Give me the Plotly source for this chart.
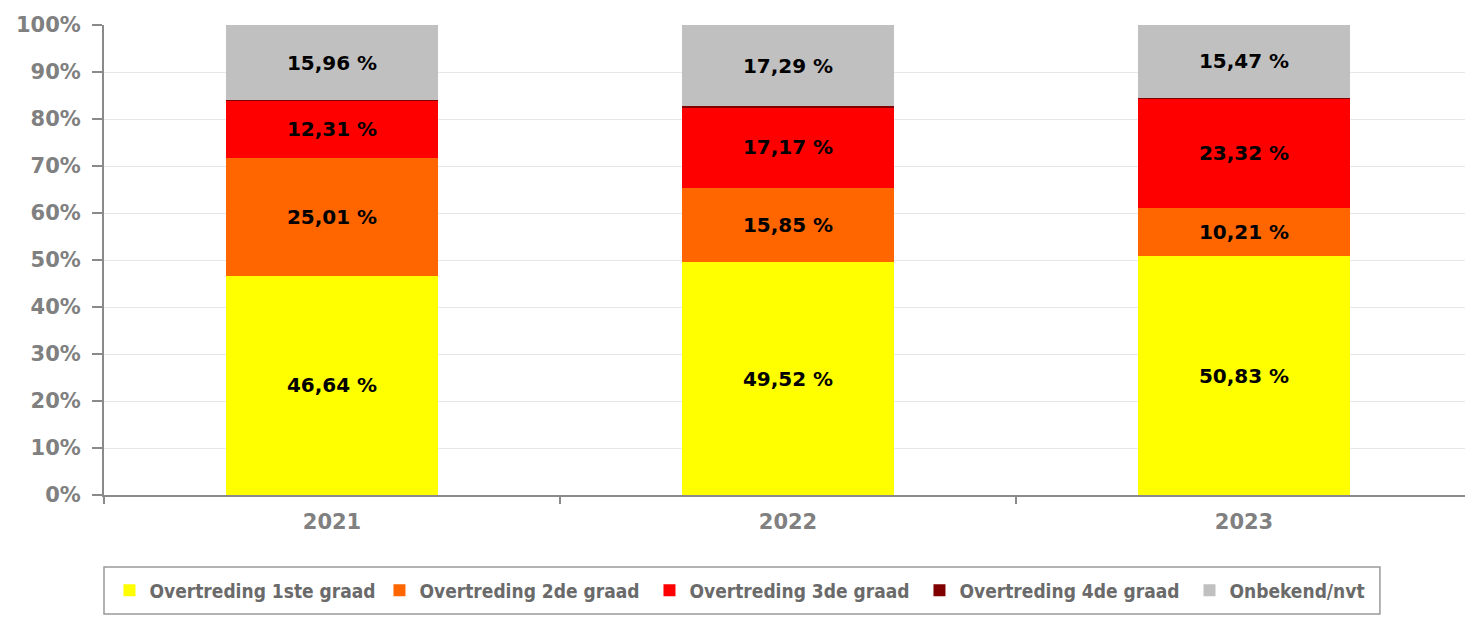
import plotly.graph_objects as go

years = ["2021", "2022", "2023"]
series_names = ["Overtreding 1ste graad", "Overtreding 2de graad", "Overtreding 3de graad",
                "Overtreding 4de graad", "Onbekend/nvt"]
graad1 = [46.64, 49.52, 50.83]
graad2 = [25.01, 15.85, 10.21]
graad3 = [12.31, 17.17, 23.32]
graad4 = [0.08, 0.17, 0.17]
onbekend = [15.96, 17.29, 15.47]
colors = ["#FFFF00", "#FF6600", "#FF0000", "#800000", "#C0C0C0"]
show_labels = [True, True, True, False, True]

fig = go.Figure()
for name, vals, col, lab in zip(series_names, [graad1, graad2, graad3, graad4, onbekend], colors, show_labels):
    fig.add_trace(go.Bar(
        x=years, y=vals, name=name,
        marker=dict(color=col, line=dict(width=0)),
        texttemplate="%{y:.2f} %" if lab else "",
        textposition="inside" if lab else "none",
        insidetextanchor="middle",
        textangle=0,
        constraintext="none",
        textfont=dict(family="DejaVu Sans", size=20, color="#000000", weight="bold"),
        hoverinfo="skip",
    ))

axis_grey = "#8a8a8a"
# page body has an 8px margin, so margins are compensated
fig.update_layout(
    barmode="stack",
    bargap=0.536,
    separators=",.",
    width=1473, height=619,
    margin=dict(l=96, r=9, t=17, b=132, autoexpand=False),
    plot_bgcolor="#FFFFFF",
    paper_bgcolor="#FFFFFF",
    showlegend=True,
    legend=dict(
        orientation="h",
        x=0.004, xanchor="left",
        y=-0.2032, yanchor="middle",
        borderwidth=0,
        bgcolor="rgba(0,0,0,0)",
        font=dict(family="DejaVu Sans Condensed", size=19, color="#6a6a6a", weight="bold"),
        traceorder="normal",
        entrywidth=225, entrywidthmode="pixels",
    ),
    shapes=[dict(type="rect", xref="paper", yref="paper",
                 x0=0, x1=0.9327, y0=-0.1532, y1=-0.2532,
                 line=dict(color="#999999", width=1.5), fillcolor="rgba(0,0,0,0)", layer="below")],
    xaxis=dict(
        showline=True, linecolor=axis_grey, linewidth=2,
        ticks="outside", tickson="boundaries", ticklen=7, tickcolor=axis_grey, tickwidth=2,
        tickfont=dict(family="DejaVu Sans", size=21, color="#808080", weight="bold"),
        ticklabelstandoff=7,
        showgrid=False,
    ),
    yaxis=dict(
        range=[0, 100], dtick=10, ticksuffix="%",
        showline=True, linecolor=axis_grey, linewidth=2,
        ticks="outside", ticklen=10, tickcolor=axis_grey, tickwidth=2,
        tickfont=dict(family="DejaVu Sans", size=21, color="#808080", weight="bold"),
        ticklabelstandoff=7,
        showgrid=True, gridcolor="#e6e6e6", gridwidth=1,
        zeroline=False,
    ),
)

fig.write_html("out.html")
